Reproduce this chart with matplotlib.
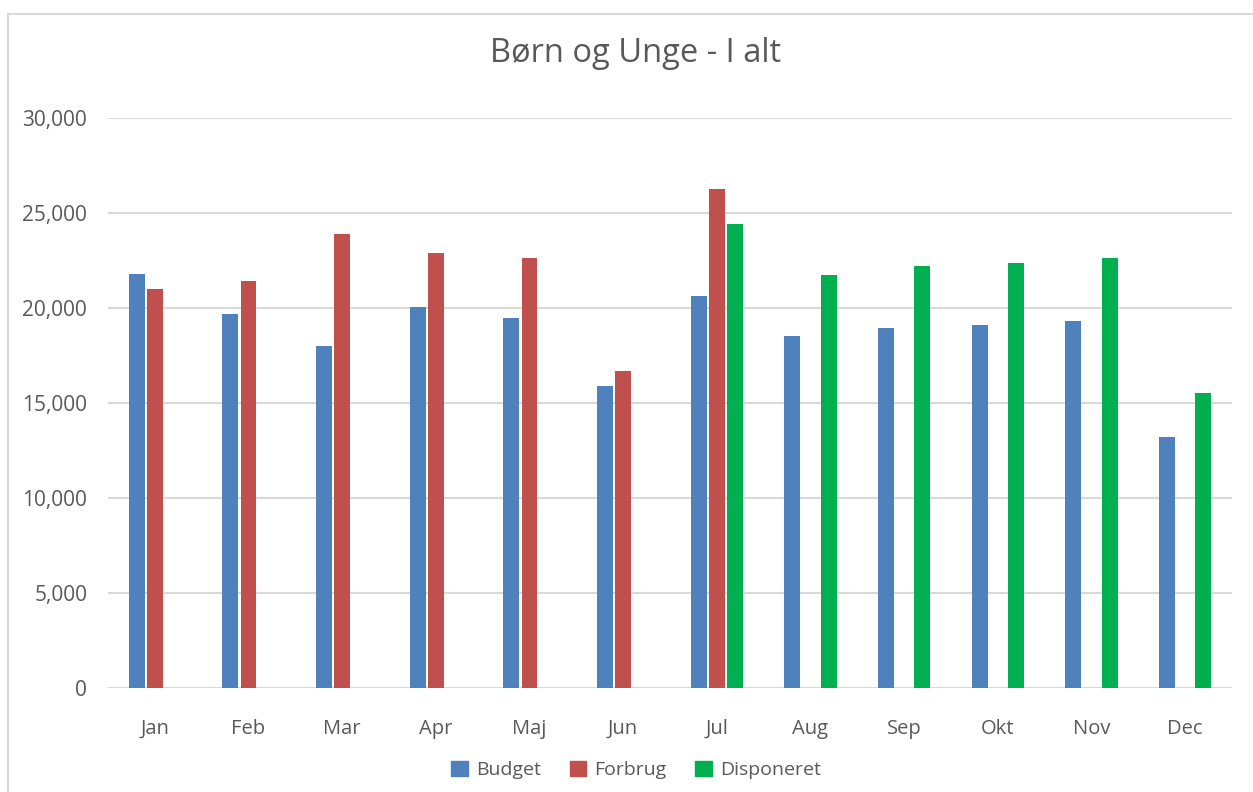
import matplotlib
matplotlib.use("Agg")
import matplotlib.pyplot as plt
import numpy as np
from matplotlib.lines import Line2D

months = ["Jan", "Feb", "Mar", "Apr", "Maj", "Jun", "Jul", "Aug", "Sep", "Okt", "Nov", "Dec"]
budget = [21800, 19700, 18000, 20070, 19490, 15910, 20650, 18540, 18960, 19120, 19330, 13230]
forbrug = [21000, 21450, 23900, 22900, 22650, 16700, 26280, np.nan, np.nan, np.nan, np.nan, np.nan]
disponeret = [np.nan, np.nan, np.nan, np.nan, np.nan, np.nan, 24440, 21750, 22230, 22380, 22650, 15540]
yticks = [0, 5000, 10000, 15000, 20000, 25000, 30000]

title = "Børn og Unge - I alt"
series_names = ["Budget", "Forbrug", "Disponeret"]
colors = ["#4F81BD", "#C0504D", "#00B050"]

plt.rcParams['font.family'] = ['Open Sans', 'DejaVu Sans']
text_color = "#595959"

fig = plt.figure(figsize=(12.53, 7.92), dpi=100)
ax = fig.add_axes([108/1253, 1-688.3/792, (1232-108)/1253, (688.3-118.3)/792])

x = np.arange(len(months))
w = 0.17
off = 0.195
for i, (vals, c, name) in enumerate(zip([budget, forbrug, disponeret], colors, series_names)):
    ax.bar(x + (i-1)*off, vals, width=w, color=c, label=name, zorder=3)

ax.set_xlim(-0.5, len(months)-0.5)
ax.set_ylim(0, 30000)
ax.set_yticks(yticks)
ax.set_yticklabels([f"{v:,}" for v in yticks], fontsize=15, color=text_color)
ax.set_xticks(x)
ax.set_xticklabels(months, fontsize=14.5, color=text_color)
ax.tick_params(axis='both', length=0)
ax.tick_params(axis='y', pad=15)
ax.tick_params(axis='x', pad=22)
ax.grid(axis='y', color="#D9D9D9", linewidth=1.5, zorder=0)
for s in ax.spines.values():
    s.set_visible(False)

fig.text(636/1253, 1-53/792, title, ha='center', va='center', fontsize=23.5, color=text_color)

handles = [plt.Rectangle((0, 0), 1, 1, color=c) for c in colors]
fig.legend(handles, series_names, loc='center', bbox_to_anchor=(636/1253, 1-770/792), ncol=3,
           frameon=False, fontsize=14, labelcolor=text_color, handlelength=0.85, handleheight=0.85,
           handletextpad=0.4, columnspacing=1.5)

# chart border
fig.add_artist(Line2D([8/1253, 8/1253], [0, 1-14/792], color="#D9D9D9", linewidth=1.5, transform=fig.transFigure))
fig.add_artist(Line2D([8/1253, 1], [1-14/792, 1-14/792], color="#D9D9D9", linewidth=1.5, transform=fig.transFigure))

fig.savefig("out.png", dpi=100)
